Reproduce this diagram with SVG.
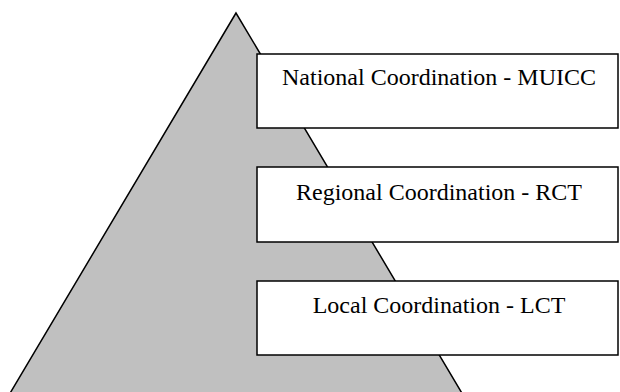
<svg xmlns="http://www.w3.org/2000/svg" width="620" height="392" viewBox="0 0 620 392">
<style>
.box{fill:#fff;stroke:#000;stroke-width:1.5}
.lbl{font-family:"Liberation Serif","Times New Roman",serif;font-size:24px;fill:#000;text-anchor:middle}
</style>
<rect width="620" height="392" fill="#fff"/>
<g id="pyramid"><polygon points="236,13 6,400 466,400" fill="#c0c0c0" stroke="#000" stroke-width="1.5"/></g>
<g id="connectors"></g>
<g id="national"><rect class="box" x="257" y="54" width="361" height="74"/><text class="lbl" x="439" y="85">National Coordination - MUICC</text></g>
<g id="regional"><rect class="box" x="257" y="167" width="361" height="75"/><text class="lbl" x="439" y="200">Regional Coordination - RCT</text></g>
<g id="local"><rect class="box" x="257" y="281" width="361" height="74"/><text class="lbl" x="439" y="313">Local Coordination - LCT</text></g>
</svg>
